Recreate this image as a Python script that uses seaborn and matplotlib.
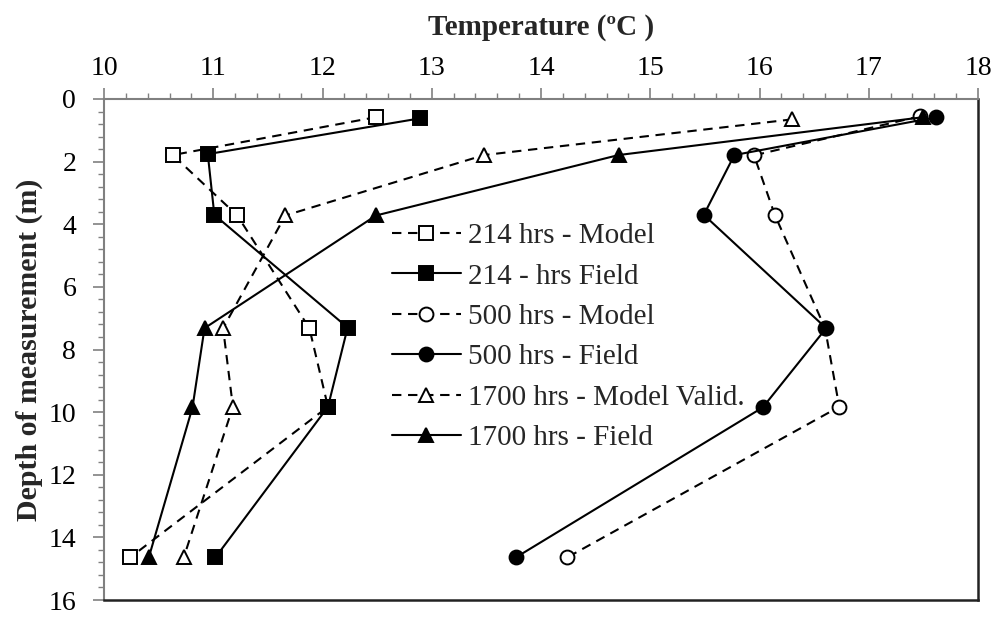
import matplotlib
matplotlib.use("Agg")
import matplotlib.pyplot as plt
import seaborn as sns
import numpy as np
from matplotlib.ticker import MultipleLocator

# ---- data ----
depth_214_model = [0.58, 1.79, 3.72, 7.32, 9.83, 14.64]
temp_214_model = [12.49, 10.63, 11.22, 11.88, 12.05, 10.24]
depth_214_field = [0.62, 1.76, 3.70, 7.30, 9.83, 14.64]
temp_214_field = [12.89, 10.95, 11.01, 12.23, 12.05, 11.02]
depth_500_model = [0.55, 1.80, 3.70, 7.32, 9.83, 14.64]
temp_500_model = [17.47, 15.95, 16.14, 16.60, 16.73, 14.24]
depth_500_field = [0.58, 1.79, 3.70, 7.32, 9.85, 14.64]
temp_500_field = [17.62, 15.77, 15.49, 16.61, 16.03, 13.77]
depth_1700_model = [0.65, 1.79, 3.72, 7.32, 9.83, 14.64]
temp_1700_model = [16.30, 13.48, 11.66, 11.09, 11.18, 10.73]
depth_1700_field = [0.58, 1.79, 3.72, 7.32, 9.85, 14.64]
temp_1700_field = [17.50, 14.71, 12.49, 10.92, 10.81, 10.41]

labels = ["214 hrs - Model", "214 - hrs Field", "500 hrs - Model",
          "500 hrs - Field", "1700 hrs - Model Valid.", "1700 hrs - Field"]

sns.set_theme(style="white")
plt.rcParams['font.family'] = ['Liberation Serif', 'DejaVu Serif']

fig = plt.figure(figsize=(9.95, 6.18), dpi=100)
ax = fig.add_axes([104/995, 1-600/618, 874/995, 501/618])

dash = (0, (4.5, 3.2))
series = [
    (temp_214_model, depth_214_model, 's', 'white', dash, 10.5),
    (temp_214_field, depth_214_field, 's', 'black', '-', 10.5),
    (temp_500_model, depth_500_model, 'o', 'white', dash, 10),
    (temp_500_field, depth_500_field, 'o', 'black', '-', 10),
    (temp_1700_model, depth_1700_model, '^', 'white', dash, 10.5),
    (temp_1700_field, depth_1700_field, '^', 'black', '-', 10),
]
for (t, d, m, fc, ls, ms), lab in zip(series, labels):
    sns.lineplot(x=t, y=d, sort=False, estimator=None, ax=ax, label=lab,
                 color='black', linestyle=ls, linewidth=1.5, marker=m,
                 markersize=ms, markerfacecolor=fc, markeredgecolor='black',
                 markeredgewidth=1.4)

ax.set_xlim(10, 18)
ax.set_ylim(16, 0)
ax.xaxis.set_major_locator(MultipleLocator(1))
ax.xaxis.set_minor_locator(MultipleLocator(0.2))
ax.yaxis.set_major_locator(MultipleLocator(2))
ax.yaxis.set_minor_locator(MultipleLocator(0.4))
ax.xaxis.tick_top()
ax.xaxis.set_label_position('top')
ax.tick_params(axis='both', which='major', direction='out', length=8, width=1.2,
               color='#808080', labelsize=20, labelcolor='black')
ax.tick_params(axis='both', which='minor', direction='out', length=4, width=1.0,
               color='#808080')
ax.tick_params(axis='x', which='both', top=True, bottom=False, pad=5)
ax.tick_params(axis='y', which='both', left=True, right=False, pad=12)

for s in ['left', 'top']:
    ax.spines[s].set_color('#808080')
    ax.spines[s].set_linewidth(1.5)
for s in ['right', 'bottom']:
    ax.spines[s].set_color('#222222')
    ax.spines[s].set_linewidth(1.8)

ax.set_xlabel("Temperature (ºC )", fontsize=21, fontweight='bold', labelpad=15)
ax.set_ylabel("Depth of measurement (m)", fontsize=21.5, fontweight='bold', labelpad=4)

leg = ax.legend(loc='upper left', bbox_to_anchor=(0.3295, 0.753), frameon=False,
                fontsize=21, handlelength=2.35, handletextpad=0.25,
                labelspacing=0.48, borderpad=0, borderaxespad=0)

fig.savefig("out.png", dpi=100)
